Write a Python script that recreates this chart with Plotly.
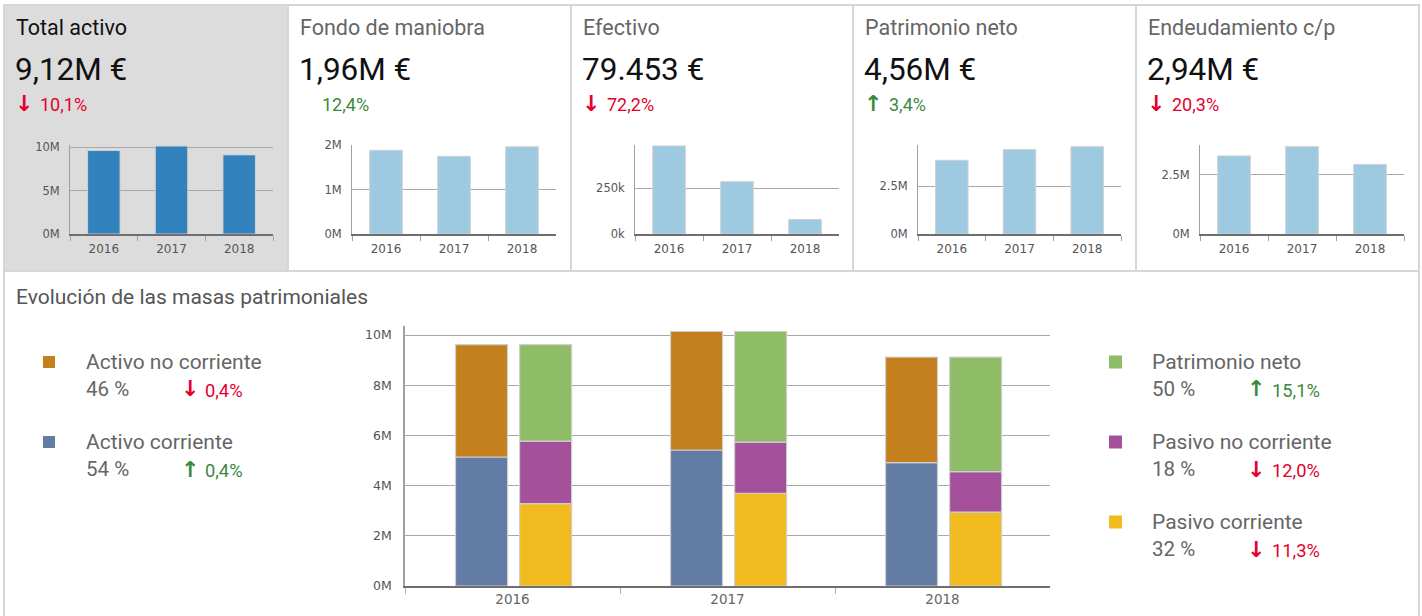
import plotly.graph_objects as go

W, H = 1422, 616

# ---------------- data ----------------
years = ["2016", "2017", "2018"]

total_activo = [9.62e6, 10.14e6, 9.12e6]
fondo_maniobra = [1.88e6, 1.745e6, 1.96e6]
efectivo = [481000, 285800, 79453]
patrimonio_neto_kpi = [3.85e6, 4.41e6, 4.56e6]
endeudamiento_cp = [3.30e6, 3.69e6, 2.94e6]

kpi_titles = ["Total activo", "Fondo de maniobra", "Efectivo", "Patrimonio neto", "Endeudamiento c/p"]
kpi_values = ["9,12M €", "1,96M €", "79.453 €", "4,56M €", "2,94M €"]
kpi_arrows = ["↓", "", "↓", "↑", "↓"]
kpi_deltas = ["10,1%", "12,4%", "72,2%", "3,4%", "20,3%"]
kpi_delta_up = [False, True, False, True, False]

kpi_tickvals = [[0, 5e6, 10e6], [0, 1e6, 2e6], [0, 250000], [0, 2.5e6], [0, 2.5e6]]
kpi_ticktext = [["0M", "5M", "10M"], ["0M", "1M", "2M"], ["0k", "250k"], ["0M", "2.5M"], ["0M", "2.5M"]]

activo_no_corriente = [4.48e6, 4.72e6, 4.20e6]
activo_corriente = [5.14e6, 5.42e6, 4.92e6]
patrimonio_neto = [3.85e6, 4.41e6, 4.56e6]
pasivo_no_corriente = [2.49e6, 2.04e6, 1.62e6]
pasivo_corriente = [3.28e6, 3.69e6, 2.94e6]

bottom_tickvals = [0, 2e6, 4e6, 6e6, 8e6, 10e6]
bottom_ticktext = ["0M", "2M", "4M", "6M", "8M", "10M"]

legend_left = [("Activo no corriente", "46 %", "↓", "0,4%", False),
               ("Activo corriente", "54 %", "↑", "0,4%", True)]
legend_right = [("Patrimonio neto", "50 %", "↑", "15,1%", True),
                ("Pasivo no corriente", "18 %", "↓", "12,0%", False),
                ("Pasivo corriente", "32 %", "↓", "11,3%", False)]

# ---------------- style ----------------
C_ANC = "#c47f1f"
C_AC = "#627ca5"
C_PN = "#8fbc67"
C_PNC = "#a5509a"
C_PC = "#f1ba1e"
RED = "#e4002b"
GREEN = "#3a8a3e"
TXT_GREY = "#666666"
AX_FONT = "DejaVu Sans"
TXT_FONT = "Roboto, 'Noto Sans', 'DejaVu Sans', sans-serif"
ARROW_FONT = "'DejaVu Sans', 'Noto Sans', sans-serif"


def px_x(x):
    return x / W


def px_y(y):
    return 1 - y / H


fig = go.Figure()

kpi_series = [total_activo, fondo_maniobra, efectivo, patrimonio_neto_kpi, endeudamiento_cp]
kpi_colors = ["#3182bd", "#9ecae1", "#9ecae1", "#9ecae1", "#9ecae1"]
kpi_plot_x = [(70, 273), (352, 556), (635, 839), (918, 1121), (1200, 1404)]
kpi_yrange = [10.26e6, 2.0e6, 486000, 4.65e6, 3.76e6]
panel_left = [4, 288, 571, 853, 1136]

layout = dict(
    width=W, height=H,
    margin=dict(l=0, r=0, t=0, b=0, autoexpand=False),
    paper_bgcolor="white",
    plot_bgcolor="rgba(0,0,0,0)",
    showlegend=False,
    barmode="overlay",
)

for i, vals in enumerate(kpi_series):
    n = i + 1
    xa = "x" if n == 1 else f"x{n}"
    ya = "y" if n == 1 else f"y{n}"
    fig.add_trace(go.Bar(
        x=years, y=vals, xaxis=xa, yaxis=ya, width=0.48,
        marker=dict(color=kpi_colors[i], line=dict(color="#d0d0d0", width=1)),
        hoverinfo="skip",
    ))
    x0, x1 = kpi_plot_x[i]
    layout["xaxis" if n == 1 else f"xaxis{n}"] = dict(
        domain=[px_x(x0), px_x(x1)], anchor=ya, type="category", automargin=False,
        showline=True, linecolor="#6e6e6e", linewidth=1.5,
        ticks="outside", tickson="boundaries", ticklen=5, tickcolor="#a0a0a0",
        ticklabelstandoff=3,
        showgrid=False, tickfont=dict(family=AX_FONT, size=12, color="#555"),
        fixedrange=True,
    )
    layout["yaxis" if n == 1 else f"yaxis{n}"] = dict(
        domain=[px_y(234), px_y(145)], anchor=xa, range=[0, kpi_yrange[i]], automargin=False,
        showline=True, linecolor="#a0a0a0", linewidth=1,
        showgrid=True, gridcolor="#a8a8a8", gridwidth=1, zeroline=False,
        tickvals=kpi_tickvals[i], ticktext=kpi_ticktext[i],
        ticks="outside", ticklen=7, tickcolor="rgba(0,0,0,0)",
        tickfont=dict(family=AX_FONT, size=11.5, color="#555"),
        fixedrange=True,
    )

# bottom stacked chart (two stacks per year)
bw = 0.242
off_l = -0.265
off_r = 0.033
stacks = [
    (activo_corriente, [0, 0, 0], C_AC, off_l),
    (activo_no_corriente, activo_corriente, C_ANC, off_l),
    (pasivo_corriente, [0, 0, 0], C_PC, off_r),
    (pasivo_no_corriente, pasivo_corriente, C_PNC, off_r),
    (patrimonio_neto, [a + b for a, b in zip(pasivo_corriente, pasivo_no_corriente)], C_PN, off_r),
]
for vals, base, col, off in stacks:
    fig.add_trace(go.Bar(
        x=years, y=vals, base=base, xaxis="x6", yaxis="y6",
        width=bw, offset=off,
        marker=dict(color=col, line=dict(color="#cfcfcf", width=1.2)),
        hoverinfo="skip",
    ))

layout["xaxis6"] = dict(
    domain=[px_x(405), px_x(1050)], anchor="y6", type="category", automargin=False,
    showline=True, linecolor="#6e6e6e", linewidth=1.5,
    ticks="outside", tickson="boundaries", ticklen=6, tickcolor="#a8b4c4",
    showgrid=False, tickfont=dict(family=AX_FONT, size=13.5, color="#666"),
    fixedrange=True,
)
layout["yaxis6"] = dict(
    domain=[px_y(586), px_y(326)], anchor="x6", range=[0, 10.36e6], automargin=False,
    showline=True, linecolor="#a0a0a0", linewidth=1.5,
    showgrid=True, gridcolor="#a8a8a8", gridwidth=1, zeroline=False,
    tickvals=bottom_tickvals, ticktext=bottom_ticktext,
    ticks="outside", ticklen=9, tickcolor="rgba(0,0,0,0)",
    tickfont=dict(family=AX_FONT, size=12.5, color="#555"),
    fixedrange=True,
)

# ---------------- shapes: panel backgrounds and borders ----------------
shapes = []
shapes.append(dict(type="rect", xref="paper", yref="paper", layer="below",
                   x0=px_x(4), x1=px_x(288), y0=px_y(271), y1=px_y(5),
                   fillcolor="#dcdcdc", line=dict(width=0)))
BORDER = dict(color="#d6d6d6", width=2)
for (xa, ya, xb, yb) in [(3, 5, 1420, 5), (3, 271, 1420, 271),
                         (4, 5, 4, 616), (1419, 5, 1419, 616),
                         (288, 5, 288, 271), (571, 5, 571, 271),
                         (853, 5, 853, 271), (1136, 5, 1136, 271)]:
    shapes.append(dict(type="line", xref="paper", yref="paper", layer="above",
                       x0=px_x(xa), x1=px_x(xb), y0=px_y(ya), y1=px_y(yb), line=BORDER))

# legend squares
for k, col in enumerate([C_ANC, C_AC]):
    cy = [362, 442][k]
    shapes.append(dict(type="rect", xref="paper", yref="paper",
                       x0=px_x(43), x1=px_x(55), y0=px_y(cy + 6), y1=px_y(cy - 6),
                       fillcolor=col, line=dict(width=0)))
for k, col in enumerate([C_PN, C_PNC, C_PC]):
    cy = [362, 442, 522][k]
    shapes.append(dict(type="rect", xref="paper", yref="paper",
                       x0=px_x(1109), x1=px_x(1122), y0=px_y(cy + 6.5), y1=px_y(cy - 6.5),
                       fillcolor=col, line=dict(width=0)))
layout["shapes"] = shapes

# ---------------- annotations ----------------
ann = []


def txt(x, y, s, size, color, family=TXT_FONT):
    ann.append(dict(xref="paper", yref="paper", x=px_x(x), y=px_y(y), text=s,
                    showarrow=False, xanchor="left", yanchor="middle",
                    font=dict(family=family, size=size, color=color)))


for i in range(5):
    left = panel_left[i] + 10
    txt(left, 27.5, kpi_titles[i], 21.5, "#111" if i == 0 else TXT_GREY)
    txt(left - 1, 69, kpi_values[i], 31.5, "#111")
    col = GREEN if kpi_delta_up[i] else RED
    if kpi_arrows[i]:
        txt(left - 1, 104, "<b>" + kpi_arrows[i] + "</b>", 22, col, ARROW_FONT)
        txt(left + 24, 105, kpi_deltas[i], 18, col)
    else:
        txt(left + 22, 105, kpi_deltas[i], 18, col)

txt(14, 297, "Evolución de las masas patrimoniales", 21, "#555")

for k, (name, pct, arr, d, up) in enumerate(legend_left):
    cy = [362, 442][k]
    col = GREEN if up else RED
    txt(84, cy, name, 21, TXT_GREY)
    txt(84, cy + 27, pct, 20.5, TXT_GREY)
    txt(179, cy + 27, "<b>" + arr + "</b>", 22, col, ARROW_FONT)
    txt(203, cy + 28, d, 18.3, col)

for k, (name, pct, arr, d, up) in enumerate(legend_right):
    cy = [362, 442, 522][k]
    col = GREEN if up else RED
    txt(1150, cy, name, 21, TXT_GREY)
    txt(1150, cy + 27, pct, 20.5, TXT_GREY)
    txt(1245, cy + 27, "<b>" + arr + "</b>", 22, col, ARROW_FONT)
    txt(1270, cy + 28, d, 18.3, col)

layout["annotations"] = ann
fig.update_layout(**layout)
fig.write_html("out.html")
